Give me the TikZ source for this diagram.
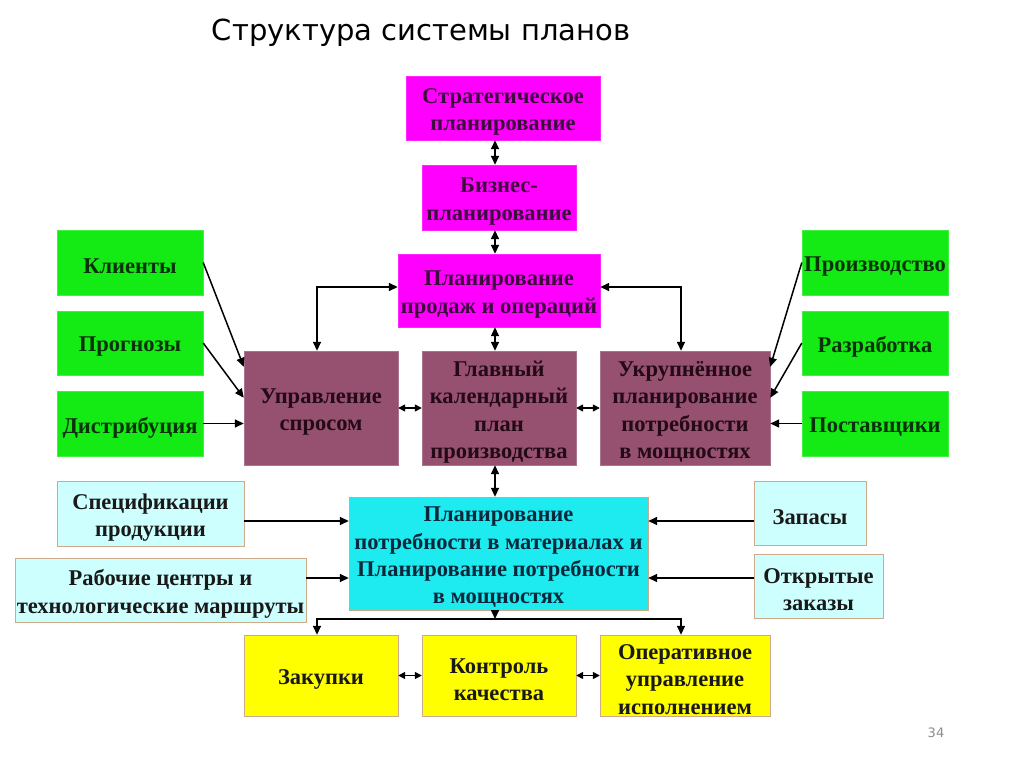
\documentclass[tikz,border=0pt]{standalone}
\usepackage{fontspec}
\setmainfont{Liberation Serif}
\newfontfamily\titlefont{DejaVu Sans}
\usetikzlibrary{arrows.meta}
\definecolor{magbox}{RGB}{255,0,255}
\definecolor{magtext}{RGB}{60,10,60}
\definecolor{grnbox}{RGB}{20,235,20}
\definecolor{grntext}{RGB}{10,50,10}
\definecolor{mauvebox}{RGB}{150,80,112}
\definecolor{mauvetext}{RGB}{35,10,22}
\definecolor{cyanbox}{RGB}{30,235,240}
\definecolor{cyantext}{RGB}{10,40,60}
\definecolor{lcyanbox}{RGB}{205,255,255}
\definecolor{yelbox}{RGB}{255,255,0}
\definecolor{tanedge}{RGB}{205,170,140}
\tikzset{
  x=1pt, y=-1pt,
  lbl/.style={inner sep=0pt, align=center, yshift=-4pt,
    font=\fontsize{22.5}{27.3}\selectfont\bfseries},
  mt/.style={lbl, text=magtext},
  gt/.style={lbl, text=grntext},
  vt/.style={lbl, text=mauvetext},
  ct/.style={lbl, text=cyantext},
  bt/.style={lbl, text=black!90},
  box/.style={rectangle, inner sep=0pt},
  magb/.style={box, fill=magbox, draw=magbox!85!white},
  grnb/.style={box, fill=grnbox, draw=grnbox!80!white},
  mauveb/.style={box, fill=mauvebox, draw=mauvebox!80!white},
  cyanb/.style={box, fill=cyanbox, draw=tanedge},
  lcyanb/.style={box, fill=lcyanbox, draw=tanedge},
  yelb/.style={box, fill=yelbox, draw=tanedge},
  conn/.style={line width=1.5pt, -{Triangle[length=9pt,width=8pt]}},
  dconn/.style={line width=1.5pt, {Triangle[length=9pt,width=8pt]}-{Triangle[length=9pt,width=8pt]}},
  sconn/.style={line width=1.5pt, {Triangle[length=7pt,width=7pt]}-{Triangle[length=7pt,width=7pt]}},
}
\begin{document}
\begin{tikzpicture}
\useasboundingbox[fill=white] (0,0) rectangle (1024,767);
\node[font=\titlefont\fontsize{29}{34}\selectfont, anchor=center] (title) at (421,33) {Структура системы планов};

\node[magb, minimum width=194pt, minimum height=64pt, label={[mt]center:{Стратегическое\\планирование}}] (strat) at (503,108) {};
\node[magb, minimum width=154pt, minimum height=65pt, label={[mt]center:{Бизнес-\\планирование}}] (biz) at (499,197.5) {};
\node[magb, minimum width=202pt, minimum height=73pt, label={[mt]center:{Планирование\\продаж и операций}}] (sales) at (499,290.5) {};

\node[grnb, minimum width=146pt, minimum height=65pt, label={[gt]center:{Клиенты}}] (kl) at (130,262.5) {};
\node[grnb, minimum width=146pt, minimum height=64pt, label={[gt]center:{Прогнозы}}] (prog) at (130,343) {};
\node[grnb, minimum width=146pt, minimum height=65pt, label={[gt]center:{Дистрибуция}}] (dist) at (130,423.5) {};

\node[mauveb, minimum width=154pt, minimum height=114pt, label={[vt]center:{Управление\\спросом}}] (upr) at (321,408) {};
\node[mauveb, minimum width=154pt, minimum height=114pt, label={[vt]center:{Главный\\календарный\\план\\производства}}] (glav) at (499,408) {};
\node[mauveb, minimum width=170pt, minimum height=114pt, label={[vt]center:{Укрупнённое\\планирование\\потребности\\в мощностях}}] (ukr) at (685,408) {};

\node[grnb, minimum width=146pt, minimum height=65pt, label={[gt]center:{Производство}}] (proiz) at (875,262.5) {};
\node[grnb, minimum width=146pt, minimum height=64pt, label={[gt]center:{Разработка}}] (razr) at (875,343) {};
\node[grnb, minimum width=146pt, minimum height=65pt, label={[gt]center:{Поставщики}}] (post) at (875,423.5) {};

\node[lcyanb, minimum width=187pt, minimum height=65pt, label={[bt]center:{Спецификации\\продукции}}] (spec) at (150.5,513.5) {};
\node[lcyanb, minimum width=291pt, minimum height=64pt, label={[bt]center:{Рабочие центры и\\технологические маршруты}}] (rab) at (160.5,590) {};
\node[cyanb, minimum width=299pt, minimum height=113pt, label={[ct]center:{Планирование\\потребности в материалах и\\Планирование потребности\\в мощностях}}] (mrp) at (498.5,553.5) {};
\node[lcyanb, minimum width=112pt, minimum height=64pt, label={[bt]center:{Запасы}}] (zap) at (810,513) {};
\node[lcyanb, minimum width=129pt, minimum height=64pt, label={[bt]center:{Открытые\\заказы}}] (otkr) at (818.5,586) {};

\node[yelb, minimum width=154pt, minimum height=81pt, label={[bt]center:{Закупки}}] (zak) at (321,675.5) {};
\node[yelb, minimum width=154pt, minimum height=81pt, label={[bt]center:{Контроль\\качества}}] (kontr) at (499,675.5) {};
\node[yelb, minimum width=170pt, minimum height=81pt, label={[bt]center:{Оперативное\\управление\\исполнением}}] (oper) at (685,675.5) {};

\node[font=\titlefont\fontsize{13}{15}\selectfont, text=black!45] (page) at (936,733) {34};

% vertical chain
\draw[dconn] (biz.north -| 495,0) -- (strat.south -| 495,0);
\draw[dconn] (sales.north -| 495,0) -- (biz.south -| 495,0);
\draw[dconn] (glav.north -| 495,0) -- (sales.south -| 495,0);
\draw[dconn] (mrp.north -| 495,0) -- (glav.south -| 495,0);

% sales to side boxes
\draw[dconn] (upr.north -| 317,0) |- (sales.west |- 0,287);
\draw[dconn] (ukr.north -| 681,0) |- (sales.east |- 0,287);

% left inputs
\draw[conn] (kl.east) -- ([yshift=-16pt]upr.north west);
\draw[conn] (prog.east) -- ([yshift=-47pt]upr.north west);
\draw[conn] (dist.east) -- (dist.east -| upr.west);

% right inputs
\draw[conn] (proiz.west) -- ([yshift=-16pt]ukr.north east);
\draw[conn] (razr.west) -- ([yshift=-47pt]ukr.north east);
\draw[conn] (post.west) -- (post.west -| ukr.east);

% middle row
\draw[sconn] (upr.east) -- (glav.west);
\draw[sconn] (glav.east) -- (ukr.west);

% MRP inputs
\draw[conn] (spec.east |- 0,521) -- (mrp.west |- 0,521);
\draw[conn] (rab.east |- 0,578) -- (mrp.west |- 0,578);
\draw[conn] (zap.west |- 0,521) -- (mrp.east |- 0,521);
\draw[conn] (otkr.west |- 0,578) -- (mrp.east |- 0,578);

% MRP outputs
\coordinate (bus) at (495,619);
\draw[conn] (mrp.south -| bus) -- (bus);
\draw[conn] (bus) -| (zak.north -| 317,0);
\draw[conn] (bus) -| (oper.north -| 681,0);

% bottom row
\draw[sconn] (zak.east) -- (kontr.west);
\draw[sconn] (kontr.east) -- (oper.west);
\end{tikzpicture}
\end{document}
